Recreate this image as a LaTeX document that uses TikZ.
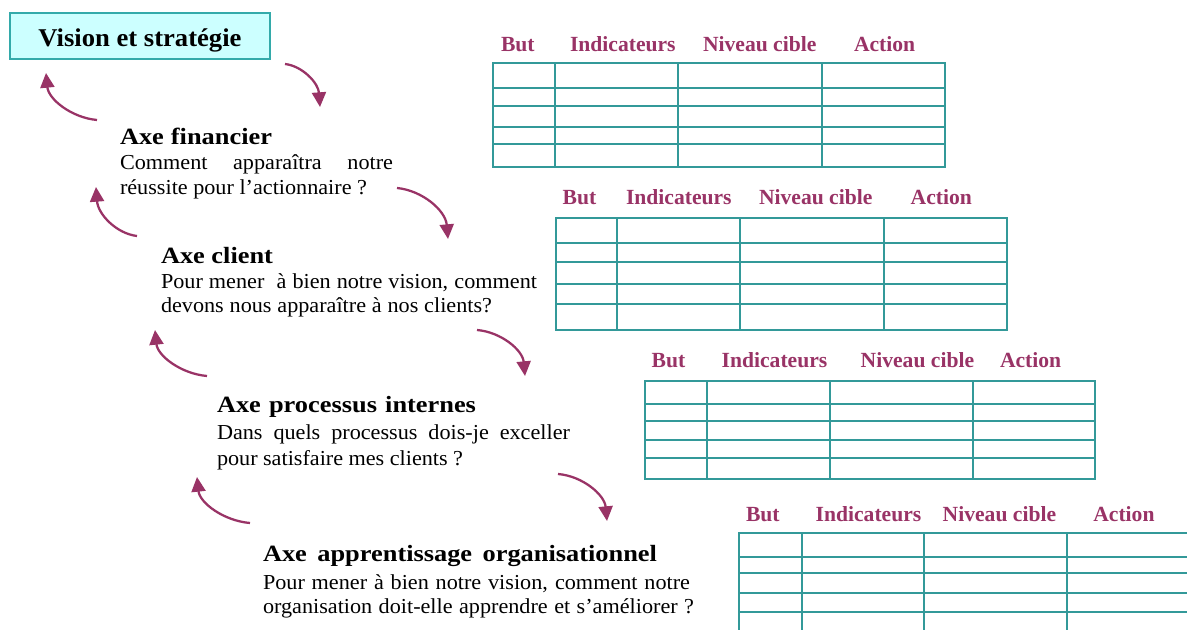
\documentclass[tikz,border=0pt]{standalone}
\usepackage{fontspec}
\setmainfont{Liberation Serif}
\newfontfamily\bodyfont[FakeStretch=1.04]{Liberation Serif}
\newfontfamily\headfont[FakeStretch=1.13]{Liberation Serif}
\newfontfamily\titlefont[FakeStretch=1.04]{Liberation Serif}
\usetikzlibrary{arrows.meta}
\definecolor{gridteal}{RGB}{51,153,153}
\definecolor{plum}{RGB}{153,51,102}
\definecolor{cyanfill}{RGB}{204,255,255}
\definecolor{boxteal}{RGB}{51,170,170}
\newcommand\fitto[2]{\makebox[#1][s]{#2}}
\tikzset{
  txt/.style={anchor=base west, inner sep=0pt, outer sep=0pt},
  bodytxt/.style={txt, font=\bodyfont\fontsize{16}{19}\selectfont},
  headtxt/.style={txt, font=\headfont\bfseries\fontsize{17.5}{21}\selectfont},
  colhead/.style={txt, text=plum, font=\bfseries\fontsize{16.2}{19}\selectfont},
  cyc/.style={draw=plum, line width=1.7pt, -{Triangle[length=11pt,width=10.5pt]}},
  gridline/.style={draw=gridteal, line width=1.5pt},
  visbox/.style={draw=boxteal, fill=cyanfill, line width=1.2pt, inner sep=0pt,
    minimum width=195pt, minimum height=34.5pt, text height=18.5pt, text depth=1.7pt,
    font=\titlefont\bfseries\fontsize{19.2}{22}\selectfont}
}
\begin{document}
\begin{tikzpicture}[x=0.75pt,y=-0.75pt]
\useasboundingbox (0,0) rectangle (1187,630);
\fill[white] (0,0) rectangle (1187,630);
\clip (0,0) rectangle (1187,630);

% Vision box
\node[visbox] (vision) at (140,35.8) {Vision et stratégie};

% Text blocks
\node[headtxt] (finh) at (120,144.5) {\fitto{114pt}{Axe financier}};
\node[bodytxt] (fin1) at (120,170) {\fitto{204.75pt}{Comment apparaîtra notre}};
\node[bodytxt] (fin2) at (120,195) {\fitto{185.25pt}{réussite pour l’actionnaire ?}};

\node[headtxt] (clih) at (161,263.3) {\fitto{84pt}{Axe client}};
\node[bodytxt] (cli1) at (161,288.3) {\fitto{282pt}{Pour mener \ à bien notre vision, comment}};
\node[bodytxt] (cli2) at (161,312.7) {\fitto{248.25pt}{devons nous apparaître à nos clients?}};

\node[headtxt] (proh) at (217,412.3) {\fitto{194.25pt}{Axe processus internes}};
\node[bodytxt] (pro1) at (217,439) {\fitto{264.75pt}{Dans quels processus dois-je exceller}};
\node[bodytxt] (pro2) at (217,465) {\fitto{184.5pt}{pour satisfaire mes clients ?}};

\node[headtxt] (apph) at (263,561) {\fitto{295.5pt}{Axe apprentissage organisationnel}};
\node[bodytxt] (app1) at (263,589) {\fitto{320.25pt}{Pour mener à bien notre vision, comment notre}};
\node[bodytxt] (app2) at (263,613) {\fitto{323.25pt}{organisation doit-elle apprendre et s’améliorer ?}};

% Cycle arrows
\coordinate (a1s) at (285,64);   \coordinate (a1t) at (320,107);
\coordinate (a2s) at (97,120);   \coordinate (a2t) at (46,73);
\coordinate (a3s) at (397,188);  \coordinate (a3t) at (448,239);
\coordinate (a4s) at (137,236);  \coordinate (a4t) at (96,187);
\coordinate (a5s) at (477,330);  \coordinate (a5t) at (525,376);
\coordinate (a6s) at (207,376);  \coordinate (a6t) at (155,330);
\coordinate (a7s) at (558,474);  \coordinate (a7t) at (607,521);
\coordinate (a8s) at (250,523);  \coordinate (a8t) at (197,477);
\draw[cyc] (a1s) .. controls (302.5,66) and (318.3,83) .. (a1t);
\draw[cyc] (a2s) .. controls (71.5,117.7) and (48.5,99.3) .. (a2t);
\draw[cyc] (a3s) .. controls (422.5,190.5) and (445.5,210.5) .. (a3t);
\draw[cyc] (a4s) .. controls (116.5,233.6) and (98,214.4) .. (a4t);
\draw[cyc] (a5s) .. controls (501,332) and (522.6,350) .. (a5t);
\draw[cyc] (a6s) .. controls (181,373.8) and (157.6,355.8) .. (a6t);
\draw[cyc] (a7s) .. controls (582.5,476) and (604.5,494.7) .. (a7t);
\draw[cyc] (a8s) .. controls (223.5,520.8) and (199.7,502.8) .. (a8t);

% Table 1
\draw[gridline] (493,62.7) rectangle (945,167.3);
\foreach \yy in {88,105.7,126.7,144} \draw[gridline] (493,\yy) -- (945,\yy);
\foreach \xx in {555,678,822} \draw[gridline] (\xx,62.7) -- (\xx,167.3);
\node[colhead] (t1a) at (501,51.7) {But};
\node[colhead] (t1b) at (570,51.7) {Indicateurs};
\node[colhead] (t1c) at (703,51.7) {Niveau cible};
\node[colhead] (t1d) at (854,51.7) {Action};

% Table 2
\draw[gridline] (555.7,218.3) rectangle (1006.7,330);
\foreach \yy in {242.7,262.3,284.3,304} \draw[gridline] (555.7,\yy) -- (1006.7,\yy);
\foreach \xx in {617,740,884.3} \draw[gridline] (\xx,218.3) -- (\xx,330);
\node[colhead] (t2a) at (562.7,205) {But};
\node[colhead] (t2b) at (626,205) {Indicateurs};
\node[colhead] (t2c) at (759,205) {Niveau cible};
\node[colhead] (t2d) at (910.7,205) {Action};

% Table 3
\draw[gridline] (645,381) rectangle (1095,479.3);
\foreach \yy in {404.3,420.7,439.7,457.7} \draw[gridline] (645,\yy) -- (1095,\yy);
\foreach \xx in {707,829.7,972.7} \draw[gridline] (\xx,381) -- (\xx,479.3);
\node[colhead] (t3a) at (651.7,368) {But};
\node[colhead] (t3b) at (721.7,368) {Indicateurs};
\node[colhead] (t3c) at (860.7,368) {Niveau cible};
\node[colhead] (t3d) at (1000,368) {Action};

% Table 4 (cut by the border)
\draw[gridline] (739.3,533.3) rectangle (1191,636);
\foreach \yy in {556.7,573.3,592.7,612} \draw[gridline] (739.3,\yy) -- (1191,\yy);
\foreach \xx in {801.7,924,1067.3} \draw[gridline] (\xx,533.3) -- (\xx,636);
\node[colhead] (t4a) at (746,521) {But};
\node[colhead] (t4b) at (815.7,521) {Indicateurs};
\node[colhead] (t4c) at (942.7,521) {Niveau cible};
\node[colhead] (t4d) at (1093.3,521) {Action};
\end{tikzpicture}
\end{document}
